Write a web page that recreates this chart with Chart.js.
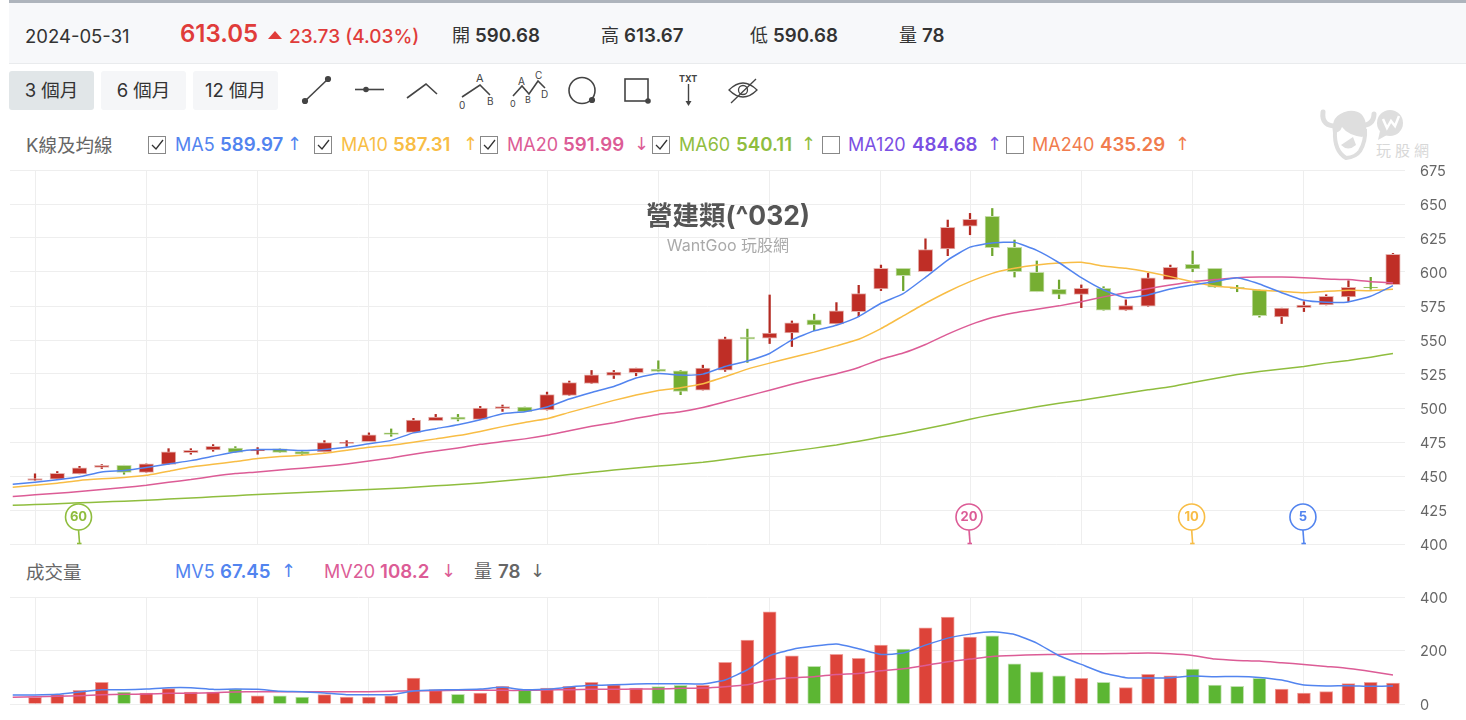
<!DOCTYPE html>
<html lang="zh-Hant"><head><meta charset="utf-8">
<script src="https://cdn.jsdelivr.net/npm/chart.js@4"></script>
<style>
html,body{margin:0;padding:0;background:#fff;width:1466px;height:720px;overflow:hidden;font-family:"Inter","Noto Sans CJK TC",sans-serif;}
.t{position:absolute;white-space:nowrap;transform:translateY(-50%);line-height:1;}
canvas{position:absolute;left:0;}
.btn{position:absolute;top:71px;height:39px;border-radius:3px;background:#f5f6f8;color:#333;font-size:18.5px;line-height:39px;text-align:center;}
.cb{position:absolute;width:16px;height:16px;border:1px solid #888;top:136px;background:#fff;}
.b{font-weight:600;font-size:18.7px}
svg{position:absolute;overflow:visible}
</style></head><body>
<div style="position:absolute;left:9px;top:0;right:0;height:3px;background:#aeb4bc"></div>
<div style="position:absolute;left:9px;top:3px;right:0;height:60px;background:#f7f8fa;border-bottom:1px solid #e9ebed"></div>
<div class="t" style="left:25px;top:36px;font-size:18.5px;color:#333">2024-05-31</div>
<div class="t" style="left:180px;top:34px;font-size:24px;font-weight:600;color:#e03c3a">613.05</div>
<svg style="left:268px;top:30px" width="15" height="10"><path d="M0 9 L7 1 L14 9Z" fill="#e03c3a"/></svg>
<div class="t" style="left:289px;top:36px;font-size:19px;font-weight:500;color:#e03c3a">23.73 (4.03%)</div>
<div class="t" style="left:452px;top:36px;font-size:18px;color:#333">開 <span class="b">590.68</span></div>
<div class="t" style="left:601px;top:36px;font-size:18px;color:#333">高 <span class="b">613.67</span></div>
<div class="t" style="left:750px;top:36px;font-size:18px;color:#333">低 <span class="b">590.68</span></div>
<div class="t" style="left:899px;top:36px;font-size:18px;color:#333">量 <span class="b">78</span></div>

<div class="btn" style="left:9px;width:85px;background:#e1e6e8">3 個月</div>
<div class="btn" style="left:101px;width:85px">6 個月</div>
<div class="btn" style="left:193px;width:85px">12 個月</div>

<svg style="left:0;top:0" width="800" height="120" fill="none" stroke="#444" stroke-width="1.6">
<path d="M305 101 L328 79"/><circle cx="305" cy="101" r="2.3" fill="#444"/><circle cx="328" cy="79" r="2.3" fill="#444"/>
<path d="M355 89.5 H384"/><circle cx="366" cy="89.5" r="2" fill="#444"/>
<path d="M407 98 L426 84 L437 94"/>
<path d="M462 97 L480 85 L490 95"/>
<path d="M513 96 L522 86 L529 94 L538 81 L545 88"/>
<circle cx="582" cy="90.5" r="13"/><circle cx="592" cy="100" r="2.3" fill="#444"/>
<rect x="625" y="79" width="23" height="22"/><circle cx="648" cy="101" r="2" fill="#444"/>
<path d="M688.500 84 V104" stroke-width="1.4"/><path d="M685.500 101 L688.500 106 L691.500 101Z" fill="#444" stroke="none"/>
<path d="M729 90 Q743 76 757 90 Q743 104 729 90Z" stroke-width="1.3"/><circle cx="743" cy="90" r="4.500" stroke-width="1.3"/><path d="M731 103 L756 79" stroke-width="1.3"/>
</svg>
<div class="t" style="left:476px;top:78px;font-size:11px;color:#444">A</div>
<div class="t" style="left:459px;top:105px;font-size:10px;color:#444">0</div>
<div class="t" style="left:487px;top:101px;font-size:10px;color:#444">B</div>
<div class="t" style="left:535px;top:75px;font-size:10px;color:#444">C</div>
<div class="t" style="left:518px;top:81px;font-size:10px;color:#444">A</div>
<div class="t" style="left:510px;top:103px;font-size:9px;color:#444">0</div>
<div class="t" style="left:525px;top:99px;font-size:9px;color:#444">B</div>
<div class="t" style="left:541px;top:94px;font-size:10px;color:#444">D</div>
<div class="t" style="left:679px;top:78px;font-size:9px;font-weight:700;color:#444">TXT</div>

<!-- watermark -->
<svg style="left:1318px;top:105px" width="90" height="56" fill="none">
<path d="M5 7 Q3 22 20 21 M56 9 Q56 21 40 21" stroke="#dedede" stroke-width="5" stroke-linecap="round"/>
<path d="M17 26 Q16 46 28 53 Q38 52 42 46 Q48 36 47 24" stroke="#dedede" stroke-width="4" fill="#fff"/>
<path d="M15 28 Q12 10 30 6 Q46 4 48 20 Q49 30 44 32 Q30 30 24 22 Q22 28 15 28Z" fill="#dedede"/>
<path d="M23 40 L35 32 L38 40 Q30 47 23 40Z" fill="#dedede"/>
<circle cx="72" cy="18" r="13" fill="#dedede"/><path d="M62 26 L60 35 L69 30Z" fill="#dedede"/>
<path d="M65 14 L69 23 L73 16 L77 21 L81 11" stroke="#fff" stroke-width="2.5"/>
</svg>
<div class="t" style="left:1376px;top:150px;font-size:15px;color:#d8d8d8;letter-spacing:4px">玩股網</div>

<div class="t" style="left:26px;top:145px;font-size:18.500px;color:#666">K線及均線</div>
<div id="maLegend"></div>

<canvas id="priceChart"></canvas>
<canvas id="volChart"></canvas>

<div class="t" style="left:728px;top:215px;font-size:26.500px;font-weight:700;color:#555;transform:translate(-50%,-50%)">營建類(^032)</div>
<div class="t" style="left:728px;top:245px;font-size:16px;color:#aaa;transform:translate(-50%,-50%)">WantGoo 玩股網</div>

<div class="t" style="left:26px;top:572px;font-size:18.500px;color:#666">成交量</div>
<div id="volLegend"></div>

<script>
const opens=[446.7,447.6,451.6,456.4,457.9,452.7,458.6,467.2,469.2,470.6,468.4,469.9,467.9,467.7,474.0,475.3,481.7,482.1,490.7,493.4,491.6,499.5,500.7,498.5,509.2,518,523.9,525.9,528.6,527.4,513.2,527.9,552.1,551.4,555.2,564.8,561.8,570.9,587.5,602.7,600.2,616.9,633.7,640.9,618.1,599.8,587.3,583.6,588,571.9,574.8,594.4,605.6,602.7,588.8,586.8,567,573.8,575.8,581.7,589,590.68];
const closes=[448.1,452.0,456.0,457.9,452.7,458.9,467.7,468.9,471.8,467.4,469.2,467.4,466.0,474.5,474.8,480.2,480.6,491.2,493.4,491.6,500,501,497.3,509.8,518.6,524.4,526.4,529.3,526.9,512.2,529.3,550.8,550.6,555,562.6,561.1,571.4,584.1,602.7,597.3,616.4,632.8,638.7,617.8,600.2,585.5,583.6,588,571.9,575.3,595.8,603.4,602.2,588.8,587.7,567.9,573.4,575.6,582.2,588.8,588.3,613.05];
const highs=[451.6,453.3,457.1,458.4,457.9,458.9,470.1,470.1,473.1,471.6,470.9,469.9,468.7,476,476,481.7,484.6,492.4,495.3,495.3,501.2,502.2,500.7,511.7,519.8,527.6,527.6,529.3,534.7,527.6,531.5,552.1,558,583.1,564,569,577.5,590.2,605.1,602.7,624.4,638.2,643.1,646.7,623.5,608.1,594.1,590.5,589.2,579.5,599,605.1,615.4,602.7,590.2,586.8,573.4,578.2,583.3,593.6,596.1,613.67];
const lows=[446.7,447.6,451.6,455.5,451.3,452.7,458.6,466.0,468.2,467.4,466.0,467.4,465.5,467.7,471.8,475.3,479.2,482.1,490.7,490.5,491.6,497.5,497.3,498.5,509.2,518,521.7,523.7,526.9,509.8,513.2,526.9,533.5,547.4,545.2,556.9,561.8,567.2,586.3,586.3,600.2,612,627.4,612,596.3,585.5,580.4,573.8,571.9,571.9,574.8,594.4,600.2,588.8,585.5,566.8,562.1,570.9,575.8,578.2,587.3,590.68];
// moving averages: the first value belongs to the session before the first candle
const ma5=[443.9,445.4,447.2,449.4,453,454,456.2,458.9,461.3,464.5,467.7,469.4,469.4,468.7,469.4,471.1,473.7,476.2,481.7,484.8,487.7,491.4,495.8,497.3,500.7,506.6,511.4,515.8,522,525.4,524.2,524.9,530.5,534.5,540.1,550.1,556.7,560.9,567.2,577,584.1,596.1,608.8,618.3,621.3,621.8,615.9,606.8,595.8,586.8,581.1,583.1,587.5,590.5,592.9,595.8,591.2,584.8,579.2,577.8,578,582.2,589.97];
const ma10=[441.7,443.2,444.7,446.7,447.9,448.9,450.5,453.5,456.7,458.6,460.6,462.8,464.3,465.2,466.7,468.9,471.2,472.6,474.8,477.3,479.7,482.8,486.3,489.4,492.1,496.8,501.2,505.6,509.5,512.9,514.9,517.8,523,528.6,533,537.1,541.1,545.7,550.6,558.4,567.7,577,585.5,592.9,599,602.7,605.1,606.6,607.1,604.4,602.7,600,596.6,592.9,589.7,588.3,586.6,585.8,584.8,585.8,586.6,586.3,587.31];
const ma20=[434.9,436.2,437.3,438.6,440.1,441.5,443.2,445.4,447.4,449.8,451.8,453,454.5,455.7,457.1,458.9,461.1,463.3,466,468.4,470.6,473.3,475.3,477.3,479.9,483.3,486.5,489.2,492.4,495.3,497.3,500.4,504.6,508.8,513.1,517.5,521.5,525.2,529.8,535.9,540.4,546.7,554.3,561.1,566.5,570.1,572.6,575.1,578.2,581.7,584.8,587.7,590.5,592.9,594.4,595.8,596.3,596.3,595.8,594.9,594.4,592.9,591.99];
const ma60=[428.5,429,429.6,430.3,430.9,431.5,432.2,433,433.8,434.7,435.5,436.4,437.1,437.9,438.6,439.3,440.1,440.8,441.7,442.8,443.7,444.8,446.3,447.8,449.2,451.1,452.7,454.4,455.8,457.3,458.6,460.1,462.1,464.3,466.1,468.3,470.5,472.8,475.6,478.6,481.5,484.8,488.1,491.8,495.1,498,501,503.5,505.7,508.3,510.9,513.4,515.6,518.8,521.7,524.6,526.9,528.6,530.5,533,534.9,537.4,540.11];
const volumes=[24.9,34.8,51,80.8,44.8,41,57.2,44.8,44.8,56,31,31,26,34.8,26,26,31,97,53.5,36,41,65.9,51,59.7,66,80.8,72,59.7,64.7,69.7,69.7,155.5,238.8,344.5,180.3,140.5,185.3,170.4,220.1,205.2,284.8,324.6,250,255,150.5,120.6,105.7,95.8,80.8,61,110.7,105.7,130.6,70.9,65.9,95.8,56,41,46,75.9,80.8,78];
const volumeDown=[4,9,11,12,19,22,28,29,35,39,43,44,45,46,48,52,53,54,55];
const mv5=[33.6,33.6,36,44.8,53.5,53.5,56,61,61,54.7,56,54.7,47.3,46,41,34.8,34.8,34.8,48.5,52.2,53.5,56,62.2,53.5,54.7,63.4,69.7,72,74.6,75.9,75.9,74.6,89.6,128,180.3,204,216.4,223.9,206.5,185.3,190.3,220,246.3,261.2,269.9,260,227.6,180.3,148,115.7,98.3,97,98.3,104.5,102,103.2,99.5,89.6,70.9,67.2,68.4,65.9,67.45];
const mv20=[24.9,27.4,28.6,31,34.8,36,37.3,39.8,39.8,42.3,44.8,46,46,46,46,46,46,47.3,49.8,49.8,51,52.2,51,51,52.2,53.5,54.7,54.7,56,56,58.5,59.7,64.7,72,90.8,98.3,102,110.7,114.4,124.4,131.8,144.3,158,167.9,178,181.6,184,185.3,187.8,187.8,189,190.3,187.8,181.6,167.9,162.9,160.4,154.2,148,140.5,133,121.9,108.2];
const priceTicks=[400,425,450,475,500,525,550,575,600,625,650,675];
const volumeTicks=[0,200,400];
const gridIndices=[0,5,10,15,23,28,33,38,42,47,52,57];
const pinIndices=[2,42,52,57];
const pinLabels=['60','20','10','5'];

const C={ma5:'#5284ef',ma10:'#f8bd45',ma20:'#dc5c96',ma60:'#8fbd3e',ma120:'#7a50e3',ma240:'#f17c4e',
  up:'#bf2e26',upEdge:'#e5b5b1',down:'#76ae32',downEdge:'#c5dca9',wickUp:'#b32a22',wickDown:'#6ea62e',
  vUp:'#dd4339',vUpEdge:'#efa09b',vDown:'#5cb633',vDownEdge:'#bfe0ae',grid:'#eeeeee',tick:'#666'};

const legendItems=[
 [148,175,220,287,true,'MA5','589.97','↑',C.ma5],[314,341,393,463,true,'MA10','587.31','↑',C.ma10],
 [480,507,563,634,true,'MA20','591.99','↓',C.ma20],[652,679,736,801,true,'MA60','540.11','↑',C.ma60],
 [822,848,912,987,false,'MA120','484.68','↑',C.ma120],[1006,1032,1100,1175,false,'MA240','435.29','↑',C.ma240]];
let html='';
for(const [cb,a,b,c,on,n,v,ar,col] of legendItems){
 html+=`<div class="cb" style="left:${cb}px">${on?'<svg width="16" height="16"><path d="M3 8 L7 12 L14 3" fill="none" stroke="#333" stroke-width="1.3"/></svg>':''}</div>`;
 html+=`<div class="t" style="left:${a}px;top:145px;font-size:18px;color:${col}">${n}</div>`;
 html+=`<div class="t b" style="left:${b}px;top:145px;color:${col}">${v}</div>`;
 html+=`<div class="t" style="left:${c}px;top:144px;font-size:18px;font-family:'DejaVu Sans';color:${col}">${ar}</div>`;
}
document.getElementById('maLegend').innerHTML=html;
const volItems=[[175,220,281,'MV5','67.45','↑',C.ma5],[324,380,441,'MV20','108.2','↓',C.ma20],[474,498,530,'量','78','↓','#666']];
html='';
for(const [a,b,c,n,v,ar,col] of volItems){
 html+=`<div class="t" style="left:${a}px;top:572px;font-size:18px;color:${col}">${n}</div>`;
 html+=`<div class="t b" style="left:${b}px;top:572px;color:${col}">${v}</div>`;
 html+=`<div class="t" style="left:${c}px;top:571px;font-size:18px;font-family:'DejaVu Sans';color:${col}">${ar}</div>`;
}
document.getElementById('volLegend').innerHTML=html;

const idx=opens.map((_,i)=>i);
const linePts=a=>a.map((v,i)=>({x:i-1,y:v}));
const lineDs=(a,col,order)=>({type:'line',data:linePts(a),borderColor:col,borderWidth:1.5,pointRadius:0,tension:0.15,order,fill:false});
const isUp=i=>closes[i]>=opens[i];
const xScale=()=>({type:'linear',min:-1.123,max:61.54,offset:false,
  ticks:{display:false},border:{display:false},
  grid:{color:C.grid,lineWidth:1,drawTicks:false,offset:false},
  afterBuildTicks:s=>{s.ticks=gridIndices.map(v=>({value:v}));}});
const yScale=(min,max,ticks)=>({position:'right',min,max,
  afterBuildTicks:s=>{s.ticks=ticks.map(v=>({value:v}));},
  afterFit:s=>{s.width=61;s.paddingTop=0;s.paddingBottom=0;},
  ticks:{color:C.tick,font:{size:14.5,family:'Inter'},padding:15,align:'center',crossAlign:'near',autoSkip:false,labelOffset:1.5},
  border:{display:false},grid:{color:C.grid,lineWidth:1,drawTicks:false}});
const baseOpts=(y)=>({responsive:false,animation:false,events:[],
  layout:{padding:{left:10,right:0,top:10,bottom:10}},
  plugins:{legend:{display:false},tooltip:{enabled:false},title:{display:false}},
  scales:{x:xScale(),y}});

const pinColors=[C.ma60,C.ma20,C.ma10,C.ma5];
const pinsPlugin={id:'pins',afterDatasetsDraw(chart){
  const {ctx,scales:{x},chartArea}=chart;
  pinIndices.forEach((ix,k)=>{
    const px=x.getPixelForValue(ix)-1, bottom=chartArea.bottom, cy=bottom-27, r=13;
    ctx.save();ctx.strokeStyle=pinColors[k];ctx.fillStyle='#fff';ctx.lineWidth=1.6;
    ctx.beginPath();ctx.arc(px,cy,r,0,Math.PI*2);ctx.fill();ctx.stroke();
    ctx.beginPath();ctx.moveTo(px,cy+r);ctx.lineTo(px+1,bottom-1);ctx.stroke();
    ctx.beginPath();ctx.moveTo(px-1.5,bottom-.5);ctx.lineTo(px+3,bottom-.5);ctx.stroke();
    ctx.fillStyle=pinColors[k];ctx.font='700 13px Inter';ctx.textAlign='center';ctx.textBaseline='middle';
    ctx.fillText(pinLabels[k],px,cy+.5);ctx.restore();
  });
}};

const pc=document.getElementById('priceChart');pc.width=1466;pc.height=394;pc.style.top='160px';pc.style.width='1466px';pc.style.height='394px';
new Chart(pc,{type:'bar',plugins:[pinsPlugin],data:{datasets:[
  {data:idx.map(i=>({x:i,y:[lows[i],highs[i]]})),grouped:false,barThickness:1.6,borderWidth:0,borderSkipped:false,order:4,
   backgroundColor:idx.map(i=>isUp(i)?C.wickUp:C.wickDown)},
  {data:idx.map(i=>({x:i,y:[opens[i],closes[i]]})),grouped:false,barThickness:14.5,borderWidth:1,borderSkipped:false,order:3,
   backgroundColor:idx.map(i=>isUp(i)?C.up:C.down),borderColor:idx.map(i=>isUp(i)?C.upEdge:C.downEdge)},
  lineDs(ma60,C.ma60,2),lineDs(ma20,C.ma20,1.5),lineDs(ma10,C.ma10,1.2),lineDs(ma5,C.ma5,1)
]},options:baseOpts(yScale(400,675,priceTicks))});

const vc=document.getElementById('volChart');vc.width=1466;vc.height=127;vc.style.top='587px';vc.style.width='1466px';vc.style.height='127px';
new Chart(vc,{type:'bar',data:{datasets:[
  {data:idx.map(i=>({x:i,y:volumes[i]})),grouped:false,barThickness:13,borderWidth:{left:1,right:1,top:1,bottom:0},borderSkipped:false,order:3,
   backgroundColor:idx.map(i=>volumeDown.includes(i)?C.vDown:C.vUp),borderColor:idx.map(i=>volumeDown.includes(i)?C.vDownEdge:C.vUpEdge)},
  lineDs(mv20,C.ma20,2),lineDs(mv5,C.ma5,1)
]},options:baseOpts(yScale(0,400,volumeTicks))});
</script>
</body></html>
